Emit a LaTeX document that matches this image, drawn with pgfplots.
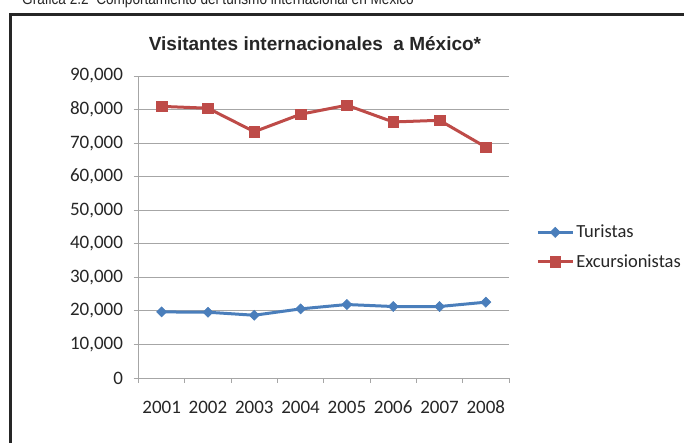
\documentclass[border=0pt]{standalone}
\usepackage{pgfplots}
\pgfplotsset{compat=1.18}
\usepackage{fontspec}
\setmainfont{Carlito}
\newfontfamily\arialfont{Liberation Sans}
\definecolor{turblue}{HTML}{4A7EBB}
\definecolor{excred}{HTML}{BE4B48}
\definecolor{gridgray}{HTML}{A6A6A6}
\definecolor{txtgray}{HTML}{262626}

\pgfplotstableread{
year  tur    exc
1     19700  80950
2     19600  80400
3     18700  73400
4     20600  78600
5     21900  81300
6     21300  76300
7     21300  76800
8     22600  68800
}\visitantes

\begin{document}
\begin{tikzpicture}[x=1pt,y=1pt]
\useasboundingbox (0,0) rectangle (684,443);
\clip (0,0) rectangle (684,443);
\fill[white] (0,0) rectangle (684,443);
% caption above the box (cut at the top, as in the source)
\node[anchor=base west, inner sep=0pt, font=\arialfont\fontsize{16}{18}\selectfont, text=txtgray]
  at (22,438.5) {\scalebox{0.85}[1]{Gráfica 2.2\ \ Comportamiento del turismo internacional en México}};
% frame
\draw[line width=2.5pt, black!85] (10.5,-5) -- (10.5,428.5) -- (700,428.5);
% chart title
\node[anchor=base, inner sep=0pt, font=\arialfont\bfseries\fontsize{19}{21}\selectfont, text=txtgray]
  at (315,392) {Visitantes internacionales\ \ a México*};
\begin{axis}[
  at={(138.5pt,65pt)}, anchor=south west,
  scale only axis, width=370.5pt, height=302pt,
  xmin=0.5, xmax=8.5, ymin=0, ymax=90000,
  axis lines*=left,
  axis line style={draw=gridgray, line width=0.9pt},
  tick align=outside, major tick length=5pt,
  tick style={draw=gridgray, line width=0.9pt},
  xtick={1,2,3,4,5,6,7,8},
  xticklabels={2001,2002,2003,2004,2005,2006,2007,2008},
  major x tick style={draw=none},
  extra x ticks={0.5,1.5,2.5,3.5,4.5,5.5,6.5,7.5,8.5},
  extra x tick labels={},
  extra x tick style={major x tick style={draw=gridgray, line width=0.9pt}},
  ytick={0,10000,20000,30000,40000,50000,60000,70000,80000,90000},
  ymajorgrids,
  grid style={draw=gridgray, line width=0.9pt},
  scaled y ticks=false,
  ticklabel style={font=\fontsize{19}{21}\selectfont, text=txtgray},
  yticklabel style={/pgf/number format/.cd, 1000 sep={,}, assume math mode=true, /tikz/.cd, xshift=-7pt},
  xticklabel style={text height=13pt, text depth=0pt, yshift=-14pt},
  legend style={at={(1.073,0.434)}, anchor=west, draw=none, fill=none,
    font=\fontsize{18.5}{20}\selectfont, text=txtgray, row sep=11pt, inner sep=0pt},
  legend cell align=left,
  legend image code/.code={\draw[mark repeat=2,mark phase=2,#1]
    plot coordinates {(0pt,0pt) (17.5pt,0pt) (35pt,0pt)};},
  clip=false,
]
\addplot[turblue, line width=3pt, mark=square*, mark size=3.6pt,
  mark options={rotate=45, solid, line width=0.5pt}] table[x=year, y=tur] {\visitantes};
\addlegendentry{Turistas}
\addplot[excred, line width=3pt, mark=square*, mark size=5.3pt,
  mark options={solid, line width=0.5pt}] table[x=year, y=exc] {\visitantes};
\addlegendentry{Excursionistas}
\end{axis}
\end{tikzpicture}
\end{document}
